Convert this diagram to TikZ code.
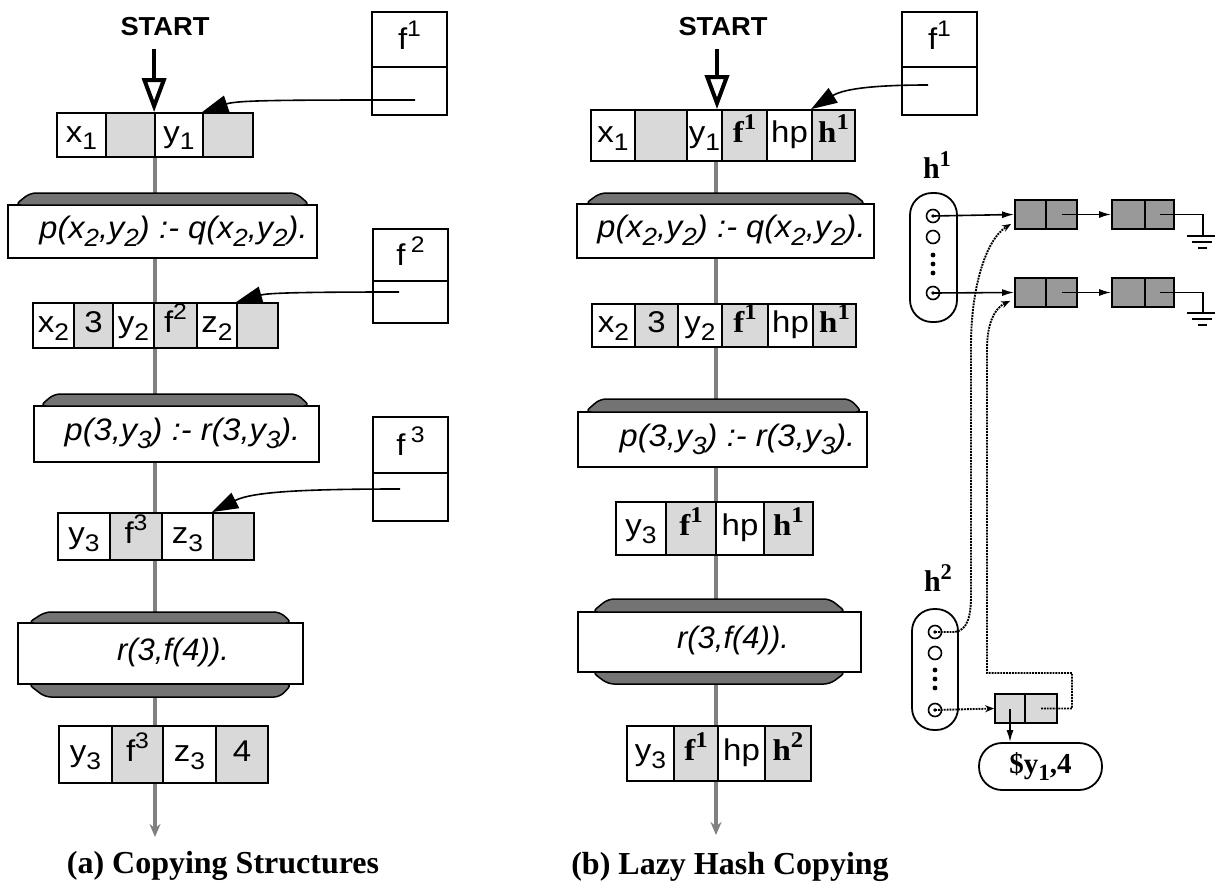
\documentclass[tikz,border=0pt]{standalone}
\usepackage{fontspec}
\setmainfont{Liberation Serif}
\setsansfont{Liberation Sans}
\usetikzlibrary{arrows.meta,backgrounds,calc}
\newcommand\dn[1]{\raisebox{-0.26em}{\scalebox{0.8}{#1}}}
\newcommand\up[1]{\raisebox{0.42em}{\scalebox{0.75}{#1}}}
\newcommand\cel[7]{\node[bx,#6,minimum width={(#3-#2)*1pt},minimum height={(#5-#4)*1pt}] (#1) at ({(#2+#3)/2},{(#4+#5)/2}) {\scalebox{1.1}[1]{#7}};}
\newcommand\tb[1]{{\rmfamily\bfseries #1}}
\newcommand\nk{\hspace{9pt}}
\tikzset{
 bx/.style={draw, line width=1.8pt, inner sep=0pt, text height=14pt, text depth=0pt, font=\sffamily\fontsize{30}{30}\selectfont},
 wh/.style={fill=white},
 sh/.style={fill=gray!30},
 hs/.style={fill=black!40},
 ftop/.style={text height=20pt},
 clause/.style={draw, line width=1.8pt, fill=white, inner sep=0pt, text height=13pt, text depth=0pt, font=\sffamily\itshape\fontsize{31}{31}\selectfont},
 capst/.style={draw, line width=1.5pt, fill=black!55, rounded corners=6pt},
 chain/.style={line width=4.5pt, draw=black!50},
 ptr/.style={line width=1.6pt, -{Triangle[length=26pt,width=17pt]}},
 startlbl/.style={font=\sffamily\bfseries\fontsize{26}{26}\selectfont, inner sep=0pt},
 startarr/.style={line width=4pt, -{Triangle[open,length=34pt,width=24pt]}},
 capt/.style={font=\rmfamily\bfseries\fontsize{32}{32}\selectfont, inner sep=0pt},
 hlbl/.style={font=\rmfamily\bfseries\fontsize{30}{30}\selectfont, inner sep=0pt},
 pill/.style={draw, line width=1.8pt, rounded corners=22pt, inner sep=0pt},
 slot/.style={circle, draw, line width=1.6pt, minimum size=13pt, inner sep=0pt},
 link/.style={line width=1.6pt, -{Latex[length=12pt,width=7pt]}},
 dlink/.style={line width=1.9pt, densely dotted, -{Stealth[open,length=9pt,width=7pt]}},
 gnd/.style={line width=1.8pt},
}
\begin{document}
\begin{tikzpicture}[x=1pt,y=-1pt]
\path[use as bounding box] (0,0) rectangle (1215,889);

%================ panel (a)
\node[startlbl] (sa) at (165,27) {\scalebox{1.05}[1]{START}};
\cel{a1c1}{57}{106}{113}{157}{wh}{x\dn{1}}
\cel{a1c2}{106}{155}{113}{157}{sh}{}
\cel{a1c3}{155}{203}{113}{157}{wh}{y\dn{1}}
\cel{a1c4}{203}{253}{113}{157}{sh}{}
\draw[startarr, shorten <=13pt] (sa.south -| a1c3.north west) -- (a1c3.north west);

\cel{fa1t}{372}{447}{12}{67}{wh,ftop}{f\up{1}}
\cel{fa1b}{372}{447}{67}{115}{wh}{}
\coordinate (pa1) at (415,100);
\draw[ptr] (pa1) .. controls (290,100) and (238,100) .. (a1c4.north west);

\node[clause, minimum width=309pt, minimum height=53pt] (acl1) at (162.5,231.5) {\hspace*{22pt}\scalebox{1.05}[1]{p(x\dn{2},y\dn{2})\nk :- q(x\dn{2},y\dn{2}).}};
\draw[capst] (15,205) -- (30,193) -- (296,193) -- (310,205) -- cycle;

\cel{a2c1}{33}{74}{303}{348}{wh}{x\dn{2}}
\cel{a2c2}{74}{113}{303}{348}{sh}{3}
\cel{a2c3}{113}{154}{303}{348}{wh}{y\dn{2}}
\cel{a2c4}{154}{197}{303}{348}{sh}{f\up{2}}
\cel{a2c5}{197}{237}{303}{348}{wh}{z\dn{2}}
\cel{a2c6}{237}{278}{303}{348}{sh}{}

\cel{fa2t}{373}{448}{229}{281}{wh,ftop}{f\,\up{2}}
\cel{fa2b}{373}{448}{281}{323}{wh}{}
\coordinate (pa2) at (399,292);
\draw[ptr] (pa2) .. controls (300,292) and (268,293) .. (a2c6.north west);

\node[clause, minimum width=285pt, minimum height=56pt] (acl2) at (176.5,434) {\hspace*{12pt}\scalebox{1.05}[1]{p(3,y\dn{3})\nk :- r(3,y\dn{3}).}};
\draw[capst] (40,406) -- (54,394) -- (297,394) -- (310,406) -- cycle;

\cel{a3c1}{58}{110}{513}{560}{wh}{y\dn{3}}
\cel{a3c2}{110}{162}{513}{560}{sh}{f\up{3}}
\cel{a3c3}{162}{213}{513}{560}{wh}{z\dn{3}}
\cel{a3c4}{213}{254}{513}{560}{sh}{}

\cel{fa3t}{373}{448}{417}{473}{wh,ftop}{f\,\up{3}}
\cel{fa3b}{373}{448}{473}{521}{wh}{}
\coordinate (pa3) at (400,489);
\draw[ptr] (pa3) .. controls (300,489) and (252,492) .. (a3c4.north west);

\node[clause, minimum width=285pt, minimum height=61pt] (acl3) at (160.5,653.5) {\hspace*{25pt}r(3,f(4)).};
\draw[capst] (28,623) -- (45,612) -- (280,612) -- (292,623) -- cycle;
\draw[capst] (28,684) -- (45,697) -- (280,697) -- (292,684) -- cycle;

\cel{a4c1}{59}{112}{726}{783}{wh}{y\dn{3}}
\cel{a4c2}{112}{163}{726}{783}{sh}{f\up{3}}
\cel{a4c3}{163}{216}{726}{783}{wh}{z\dn{3}}
\cel{a4c4}{216}{268}{726}{783}{sh}{4}

\coordinate (ax) at (155,0);
\coordinate (aend) at (155,837);
\node[capt] (capa) at (223,866) {(a) Copying Structures};

%================ panel (b)
\node[startlbl] (sb) at (723,27) {\scalebox{1.05}[1]{START}};
\cel{b1c1}{591}{635}{110}{161}{wh}{x\dn{1}}
\cel{b1c2}{635}{687}{110}{161}{sh}{}
\cel{b1c3}{687}{722}{110}{161}{wh}{y\dn{1}}
\cel{b1c4}{722}{767}{110}{161}{sh}{\tb{f\up{1}}}
\cel{b1c5}{767}{812}{110}{161}{wh}{hp}
\cel{b1c6}{812}{855}{110}{161}{sh}{\tb{h\up{1}}}
\coordinate (bx) at (717,0);
\draw[startarr, shorten <=13pt] (sb.south -| bx) -- (b1c3.north -| bx);

\cel{fb1t}{902}{977}{12}{67}{wh,ftop}{f\up{1}}
\cel{fb1b}{902}{977}{67}{115}{wh}{}
\coordinate (pb1) at (928,85);
\draw[ptr] (pb1) .. controls (880,85) and (845,88) .. (b1c6.north west);

\node[clause, minimum width=297pt, minimum height=54pt] (bcl1) at (725.5,231) {\hspace*{12pt}\scalebox{1.05}[1]{p(x\dn{2},y\dn{2})\nk :- q(x\dn{2},y\dn{2}).}};
\draw[capst] (585,204) -- (600,193) -- (852,193) -- (866,204) -- cycle;

\cel{b2c1}{592}{635}{304}{347}{wh}{x\dn{2}}
\cel{b2c2}{635}{678}{304}{347}{sh}{3}
\cel{b2c3}{678}{722}{304}{347}{wh}{y\dn{2}}
\cel{b2c4}{722}{768}{304}{347}{sh}{\tb{f\up{1}}}
\cel{b2c5}{768}{813}{304}{347}{wh}{hp}
\cel{b2c6}{813}{856}{304}{347}{sh}{\tb{h\up{1}}}

\node[clause, minimum width=289pt, minimum height=55pt] (bcl2) at (722.5,439.5) {\hspace*{30pt}\scalebox{1.05}[1]{p(3,y\dn{3})\nk :- r(3,y\dn{3}).}};
\draw[capst] (585,412) -- (600,399) -- (850,399) -- (862,412) -- cycle;

\cel{b3c1}{616}{666}{502}{555}{wh}{y\dn{3}}
\cel{b3c2}{666}{716}{502}{555}{sh}{\tb{f\up{1}}}
\cel{b3c3}{716}{764}{502}{555}{wh}{hp}
\cel{b3c4}{764}{813}{502}{555}{sh}{\tb{h\up{1}}}

\node[clause, minimum width=283pt, minimum height=60pt] (bcl3) at (719.5,642) {\hspace*{27pt}r(3,f(4)).};
\draw[capst] (592,612) -- (608,599) -- (830,599) -- (846,612) -- cycle;
\draw[capst] (592,672) -- (608,684) -- (830,684) -- (846,672) -- cycle;

\cel{b4c1}{627}{674}{726}{781}{wh}{y\dn{3}}
\cel{b4c2}{674}{718}{726}{781}{sh}{\tb{f\up{1}}}
\cel{b4c3}{718}{765}{726}{781}{wh}{hp}
\cel{b4c4}{765}{811}{726}{781}{sh}{\tb{h\up{2}}}

\coordinate (bend) at (716,835);
\node[capt] (capb) at (730,867) {(b) Lazy Hash Copying};

%================ hash tables
\node[hlbl] (h1l) at (937,165) {h\up{1}};
\node[pill, minimum width=47pt, minimum height=129pt] (h1p) at (933.5,257.5) {};
\node[slot] (c11) at (933,216) {};
\node[slot] (c12) at (933,237) {};
\node[slot] (c13) at (933,293) {};
\foreach \yy in {255,264,273} \fill (933,\yy) circle (2.4);
\fill (c11.center) circle (1.8);
\fill (c13.center) circle (1.8);

\cel{hb11}{1015}{1046}{200}{229}{hs}{}
\cel{hb12}{1046}{1077}{200}{229}{hs}{}
\cel{hb13}{1112}{1145}{200}{229}{hs}{}
\cel{hb14}{1145}{1174}{200}{229}{hs}{}
\cel{hb21}{1015}{1046}{278}{307}{hs}{}
\cel{hb22}{1046}{1077}{278}{307}{hs}{}
\cel{hb23}{1112}{1145}{278}{307}{hs}{}
\cel{hb24}{1145}{1174}{278}{307}{hs}{}

\draw[link] (c11.center) -- (hb11.west);
\draw[link] (c13.center) -- (hb21.west);
\draw[link] (hb12.center) -- (hb13.west);
\draw[link] (hb22.center) -- (hb23.west);
\coordinate (g1) at (1203,236);
\coordinate (g2) at (1203,313);
\draw[gnd] (hb14.center) -| (g1);
\draw[gnd] (hb24.center) -| (g2);
\foreach \g in {g1,g2}{
  \draw[gnd] ($(\g)+(-16,0)$) -- ($(\g)+(12,0)$);
  \draw[gnd] ($(\g)+(-11,6)$) -- ($(\g)+(9,6)$);
  \draw[gnd] ($(\g)+(-5,12)$) -- ($(\g)+(4,12)$);
}

\node[hlbl] (h2l) at (938,578) {h\up{2}};
\node[pill, minimum width=46pt, minimum height=121pt] (h2p) at (935,669.5) {};
\node[slot] (c21) at (935,632) {};
\node[slot] (c22) at (935,653) {};
\node[slot] (c23) at (935,710) {};
\foreach \yy in {670,679,688} \fill (935,\yy) circle (2.4);
\fill (c21.center) circle (1.8);
\fill (c23.center) circle (1.8);

\cel{hp1}{995}{1025}{694}{723}{sh}{}
\cel{hp2}{1025}{1057}{694}{723}{sh}{}
\node[pill, rounded corners=23pt, minimum width=123pt, minimum height=47pt,
      font=\rmfamily\bfseries\fontsize{29}{29}\selectfont] (yp) at (1040.5,766.5) {\$y\dn{1},4};

\draw[dlink] (c23.center) -- (hp1.west);
\draw[link] (hp1.center) -- (hp1.center |- yp.north);
\draw[dlink] (c21.center) -- (955,632) .. controls (967,630) and (971,618) .. (971,595)
   -- (971,345) .. controls (971,290) and (985,240) .. ($(hb11.south west)+(-3,-6)$);
\draw[dlink] (hp2.center) -- (1072,708.5) -- (1072,673) -- (987,673) -- (987,350)
   .. controls (987,322) and (995,308) .. ($(hb21.south west)+(-4,-7)$);

%================ chains (behind)
\begin{scope}[on background layer]
\fill[white] (0,0) rectangle (1215,889);
\draw[chain, -{Stealth[length=13pt,width=11pt]}] (a1c3.south -| ax) -- (aend);
\draw[chain, -{Stealth[length=13pt,width=11pt]}] (b1c3.south -| bend) -- (bend);
\end{scope}
\end{tikzpicture}
\end{document}
